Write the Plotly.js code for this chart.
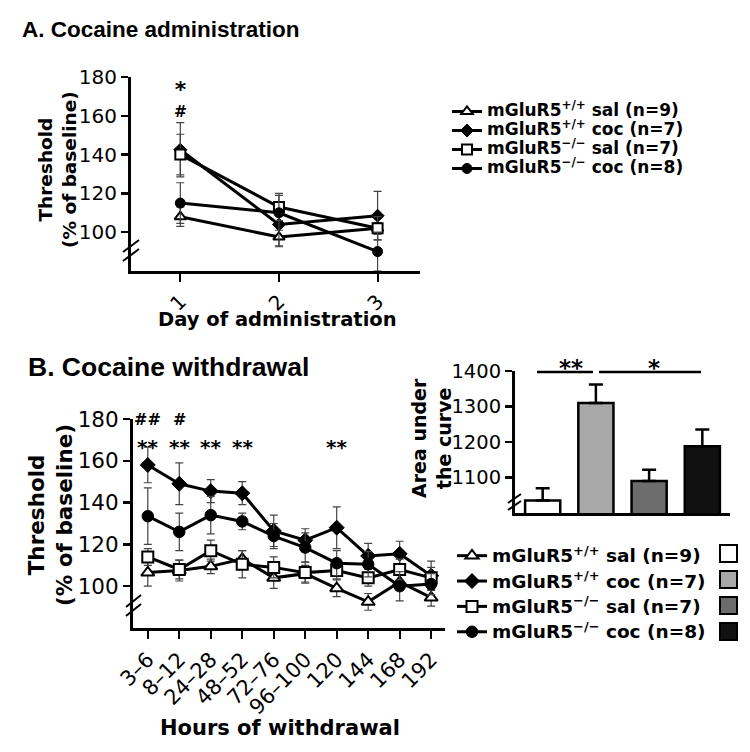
<!DOCTYPE html>
<html>
<head>
<meta charset="utf-8">
<script src="https://cdn.plot.ly/plotly-3.0.1.min.js"></script>
<style>html,body{margin:0;padding:0;background:#fff;}#chart{width:750px;height:752px;}</style>
</head>
<body>
<div id="chart"></div>
<script>
// ---------- Data ----------
// Panel A: days of cocaine administration
const daysA = [1, 2, 3];
const dayLabelsA = ["1", "2", "3"];
const salWT_A = [108, 97.5, 102];
const salWT_A_err = [5, 5, 3];
const cocWT_A = [142.5, 104, 108.5];
const cocWT_A_err = [14, 11, 12.5];
const salKO_A = [140, 113, 102];
const salKO_A_err = [10.5, 7, 6];
const cocKO_A = [115, 110, 90];
const cocKO_A_err = [10.5, 9, 10];

// Panel B: hours of withdrawal
const hoursB = ["3–6", "8–12", "24–28", "48–52", "72–76", "96–100", "120", "144", "168", "192"];
const salWT_B = [106.5, 107.5, 109.5, 113, 104, 106, 99, 92.5, 102, 94.5];
const salWT_B_err = [6.5, 5, 3.5, 4, 5, 4, 4, 4, 4, 4];
const cocWT_B = [158, 149, 145.5, 144.5, 126.5, 122, 128, 114.5, 115.5, 105];
const cocWT_B_err = [8.5, 10, 5.5, 5.5, 7.5, 5.5, 10, 6, 6, 7];
const salKO_B = [114, 108, 117, 110.5, 109, 106.5, 107.5, 104, 108, 104];
const salKO_B_err = [4, 4.5, 5, 6.5, 5, 5, 4, 4, 5, 5];
const cocKO_B = [133.5, 126, 134, 131, 124, 118.5, 111, 110.5, 100, 101];
const cocKO_B_err = [13.5, 9, 9, 4, 6, 7, 6, 6, 7, 5];

// Inset: area under the curve
const aucGroups = ["sal +/+", "coc +/+", "sal -/-", "coc -/-"];
const aucValues = [1035, 1310, 1090, 1188];
const aucErr = [35, 52, 32, 47];
const aucColors = ["#ffffff", "#a8a8a8", "#6c6c6c", "#111111"];

const groupNames = [
  "mGluR5<sup>+/+</sup> sal (n=9)",
  "mGluR5<sup>+/+</sup> coc (n=7)",
  "mGluR5<sup>−/−</sup> sal (n=7)",
  "mGluR5<sup>−/−</sup> coc (n=8)"
];

// ---------- helpers ----------
const W = 750, H = 752;
const px = x => x / W;
const py = y => 1 - y / H;
const FONT = "DejaVu Sans";

const markerStyles = [
  {symbol: "triangle-up", color: "#ffffff", line: {color: "#000", width: 2}},
  {symbol: "diamond", color: "#000", line: {color: "#000", width: 1}},
  {symbol: "square", color: "#ffffff", line: {color: "#000", width: 2}},
  {symbol: "circle", color: "#000", line: {color: "#000", width: 1}}
];
const sizesA = [10, 10, 10, 10];
const sizesB = [11.5, 11.5, 11, 11.5];

function lineTrace(x, y, err, i, xa, ya, sizes, legend, name, showlegend) {
  return {
    type: "scatter", mode: "lines+markers",
    x: x, y: y, xaxis: xa, yaxis: ya,
    name: name, legend: legend, showlegend: showlegend,
    line: {color: "#000", width: 3},
    marker: Object.assign({size: sizes[i]}, markerStyles[i]),
    error_y: {type: "data", array: err, visible: true, thickness: 1.2, width: 4, color: "#444"},
    cliponaxis: false
  };
}

const seriesA = [[salWT_A, salWT_A_err], [cocWT_A, cocWT_A_err], [salKO_A, salKO_A_err], [cocKO_A, cocKO_A_err]];
const seriesB = [[salWT_B, salWT_B_err], [cocWT_B, cocWT_B_err], [salKO_B, salKO_B_err], [cocKO_B, cocKO_B_err]];

const traces = [];
seriesA.forEach((s, i) => traces.push(lineTrace(daysA, s[0], s[1], i, "x", "y", sizesA, "legend",
  '<span style="font-size:17px">' + groupNames[i] + '</span>', true)));
seriesB.forEach((s, i) => traces.push(lineTrace(hoursB, s[0], s[1], i, "x2", "y2", sizesB, "legend2",
  '<span style="font-size:18.5px">' + groupNames[i] + '</span>', true)));

traces.push({
  type: "bar", x: aucGroups, y: aucValues, xaxis: "x3", yaxis: "y3",
  width: 0.66, showlegend: false,
  marker: {color: aucColors, line: {color: "#000", width: 2.5}},
  error_y: {type: "data", symmetric: false, array: aucErr, arrayminus: aucErr.map(() => 0),
            thickness: 2.5, width: 7, color: "#000"}
});

const axisCommon = {
  showline: true, linewidth: 3, linecolor: "#000", zeroline: false, showgrid: false,
  ticks: "outside", tickcolor: "#000", fixedrange: true
};

const layout = {
  width: W, height: H,
  margin: {l: 0, r: 0, t: 0, b: 0},
  paper_bgcolor: "#fff", plot_bgcolor: "rgba(0,0,0,0)",
  font: {family: FONT, color: "#000"},
  xaxis: Object.assign({}, axisCommon, {
    domain: [px(131), px(420)], range: [0.5, 3.43], anchor: "y",
    tickvals: daysA, ticktext: dayLabelsA, tickangle: -45, ticklen: 8, tickwidth: 2,
    tickfont: {size: 20, family: FONT}
  }),
  yaxis: Object.assign({}, axisCommon, {
    domain: [py(271), py(77)], range: [80, 180], anchor: "x",
    tickvals: [100, 120, 140, 160, 180], ticklen: 7, tickwidth: 2.5,
    tickfont: {size: 20, family: FONT}
  }),
  xaxis2: Object.assign({}, axisCommon, {
    domain: [px(133), px(445)], range: [-0.47, 9.44], anchor: "y2", type: "category",
    tickangle: -45, ticklen: 8, tickwidth: 2, tickfont: {size: 21, family: FONT}
  }),
  yaxis2: Object.assign({}, axisCommon, {
    domain: [py(628), py(419)], range: [80, 180], anchor: "x2",
    tickvals: [100, 120, 140, 160, 180], ticklen: 7, tickwidth: 2.5,
    tickfont: {size: 21.5, family: FONT}
  }),
  xaxis3: Object.assign({}, axisCommon, {
    domain: [px(515), px(730)], range: [-0.52, 3.52], anchor: "y3", type: "category",
    showticklabels: false, ticks: ""
  }),
  yaxis3: Object.assign({}, axisCommon, {
    domain: [py(513), py(371)], range: [1000, 1400], anchor: "x3",
    tickvals: [1100, 1200, 1300, 1400], ticklen: 7, tickwidth: 2.5,
    tickfont: {size: 19.5, family: FONT}
  }),
  legend: {
    x: px(447), y: py(97), xanchor: "left", yanchor: "top",
    font: {size: 11.5, family: FONT, weight: "bold"}, bgcolor: "rgba(0,0,0,0)",
    tracegroupgap: 0, itemclick: false
  },
  legend2: {
    x: px(452), y: py(538), xanchor: "left", yanchor: "top",
    font: {size: 17.2, family: FONT, weight: "bold"}, bgcolor: "rgba(0,0,0,0)",
    tracegroupgap: 0, itemclick: false
  },
  annotations: [
    {text: "A. Cocaine administration", xref: "paper", yref: "paper", x: px(20), y: py(30),
     xanchor: "left", yanchor: "middle", showarrow: false,
     font: {family: "Liberation Sans", size: 22.5, weight: "bold"}},
    {text: "B. Cocaine withdrawal", xref: "paper", yref: "paper", x: px(26), y: py(367),
     xanchor: "left", yanchor: "middle", showarrow: false,
     font: {family: "Liberation Sans", size: 26.5, weight: "bold"}},
    {text: "Threshold<br>(% of baseline)", xref: "paper", yref: "paper", x: px(57), y: py(170),
     textangle: -90, showarrow: false, xanchor: "center", yanchor: "middle",
     font: {size: 18.5, weight: "bold"}},
    {text: "Threshold<br>(% of baseline)", xref: "paper", yref: "paper", x: px(50), y: py(515),
     textangle: -90, showarrow: false, xanchor: "center", yanchor: "middle",
     font: {size: 21.5, weight: "bold"}},
    {text: "Day of administration", xref: "paper", yref: "paper", x: px(277), y: py(319),
     showarrow: false, xanchor: "center", yanchor: "middle", font: {size: 19.5, weight: "bold"}},
    {text: "Hours of withdrawal", xref: "paper", yref: "paper", x: px(280), y: py(728),
     showarrow: false, xanchor: "center", yanchor: "middle", font: {size: 21, weight: "bold"}},
    {text: "Area under<br>the curve", xref: "paper", yref: "paper", x: px(431), y: py(438),
     textangle: -90, showarrow: false, xanchor: "center", yanchor: "middle",
     font: {size: 19, weight: "bold"}},
    // significance marks
    {text: '<span style="font-size:22px">*</span><br>#', xref: "x", yref: "paper", x: 1, y: py(99),
     showarrow: false, yanchor: "middle", font: {size: 15.5, weight: "bold"}},
    {text: "##", xref: "x2", yref: "paper", x: 0, y: py(419), showarrow: false, yanchor: "middle",
     font: {size: 16, weight: "bold"}},
    {text: "#", xref: "x2", yref: "paper", x: 1, y: py(419), showarrow: false, yanchor: "middle",
     font: {size: 16, weight: "bold"}},
    ...[0, 1, 2, 3, 6].map(c => ({text: "**", xref: "x2", yref: "paper", x: c, y: py(447),
     showarrow: false, yanchor: "middle", font: {size: 20, weight: "bold"}})),
    {text: "**", xref: "x3", yref: "paper", x: 0.53, y: py(368), showarrow: false, yanchor: "middle",
     font: {size: 23, weight: "bold"}},
    {text: "*", xref: "x3", yref: "paper", x: 2.1, y: py(368), showarrow: false, yanchor: "middle",
     font: {size: 23, weight: "bold"}}
  ],
  shapes: [
    // axis break marks
    {type: "line", xref: "paper", yref: "paper", x0: px(123), y0: py(252), x1: px(139), y1: py(240), line: {color: "#000", width: 2}},
    {type: "line", xref: "paper", yref: "paper", x0: px(123), y0: py(261), x1: px(139), y1: py(249), line: {color: "#000", width: 2}},
    {type: "line", xref: "paper", yref: "paper", x0: px(126), y0: py(607), x1: px(141), y1: py(595), line: {color: "#000", width: 2}},
    {type: "line", xref: "paper", yref: "paper", x0: px(126), y0: py(616), x1: px(141), y1: py(604), line: {color: "#000", width: 2}},
    {type: "line", xref: "paper", yref: "paper", x0: px(508), y0: py(503), x1: px(521), y1: py(494), line: {color: "#000", width: 2}},
    {type: "line", xref: "paper", yref: "paper", x0: px(508), y0: py(510), x1: px(521), y1: py(501), line: {color: "#000", width: 2}},
    // significance bars in inset
    {type: "line", xref: "paper", yref: "paper", x0: px(537), y0: py(372), x1: px(593), y1: py(372), line: {color: "#000", width: 2.5}},
    {type: "line", xref: "paper", yref: "paper", x0: px(599), y0: py(372), x1: px(701), y1: py(372), line: {color: "#000", width: 2.5}},
    // bar legend swatches
    ...aucColors.map((c, i) => ({type: "rect", xref: "paper", yref: "paper",
      x0: px(720), x1: px(737), y0: py(545 + i * 26), y1: py(562 + i * 26),
      fillcolor: c, line: {color: "#000", width: 2}}))
  ]
};

Plotly.newPlot("chart", traces, layout, {displayModeBar: false, staticPlot: true});
</script>
</body>
</html>
